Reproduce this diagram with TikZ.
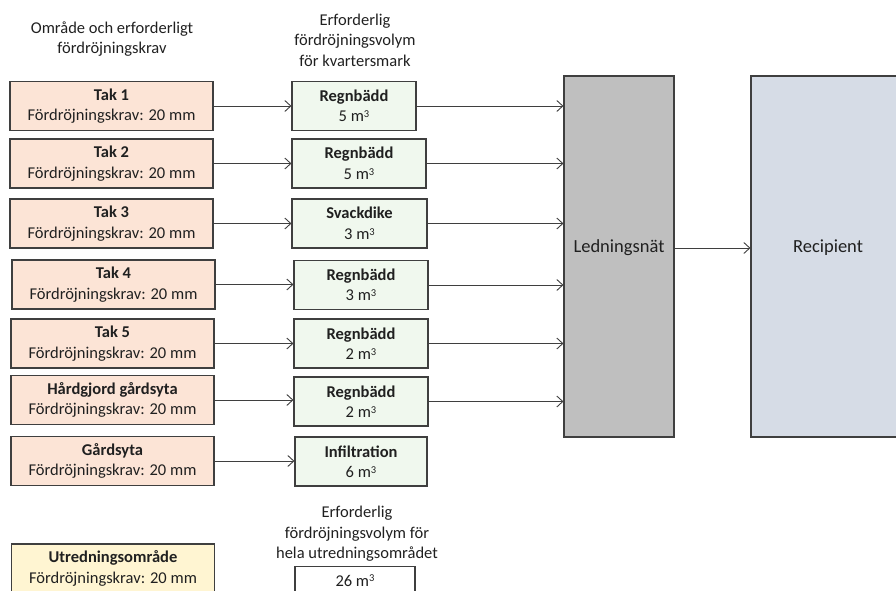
\documentclass[tikz,border=0pt]{standalone}
\usepackage{fontspec}
\setmainfont{Carlito}
\usetikzlibrary{arrows.meta}
\definecolor{areafill}{HTML}{FCE4D6}
\definecolor{measurefill}{HTML}{F0F8EE}
\definecolor{totalfill}{HTML}{FFF5D2}
\definecolor{pipefill}{HTML}{BFBFBF}
\definecolor{recfill}{HTML}{D6DCE6}
\definecolor{edgegray}{HTML}{3F3F3F}
\definecolor{txt}{HTML}{202020}
\newcommand{\cubic}{\raisebox{0.55ex}{\fontsize{10.5}{10.5}\selectfont 3}}
\tikzset{
    areabox/.style = {
        draw=edgegray,
        line width=1.1pt,
        fill=areafill,
        minimum width=203pt,
        minimum height=49pt,
        align=center,
        inner sep=0pt,
    },
    measurebox/.style = {
        draw=edgegray,
        line width=1.1pt,
        fill=measurefill,
        minimum height=49pt,
        align=center,
        inner sep=0pt,
    },
    pipebox/.style = {
        draw=edgegray,
        line width=1.1pt,
        fill=pipefill,
        minimum width=110pt,
        minimum height=361pt,
        inner sep=0pt,
    },
    header/.style = {
        align=center,
        inner sep=0pt,
    },
    biglabel/.style = {
        inner sep=0pt,
        font=\fontsize{18.5}{22}\selectfont,
    },
    flow/.style = {
        draw=edgegray,
        line width=0.9pt,
        -{Straight Barb[length=6pt,width=11pt,line width=0.9pt]},
    }
}

\begin{document}
\begin{tikzpicture}[x=1pt, y=-1pt, font=\fontsize{16.5}{20.5}\selectfont, text=txt]
  \useasboundingbox (0,0) rectangle (896,590);

  % Headings
  \node[header] (hdarea) at (112,39) {Område och erforderligt\\fördröjningskrav};
  \node[header] (hdvol) at (355,40) {Erforderlig\\fördröjningsvolym\\för kvartersmark};
  \node[header] (hdtot) at (357,534) {Erforderlig\\fördröjningsvolym för\\hela utredningsområdet};

  % Areas
  \node[areabox] (tak1) at (111.5,106) {\textbf{Tak 1}\\Fördröjningskrav: 20 mm};
  \node[areabox] (tak2) at (111.5,163.5) {\textbf{Tak 2}\\Fördröjningskrav: 20 mm};
  \node[areabox] (tak3) at (111.5,223.5) {\textbf{Tak 3}\\Fördröjningskrav: 20 mm};
  \node[areabox] (tak4) at (113.5,284.5) {\textbf{Tak 4}\\Fördröjningskrav: 20 mm};
  \node[areabox] (tak5) at (112.5,343.5) {\textbf{Tak 5}\\Fördröjningskrav: 20 mm};
  \node[areabox] (hard) at (112.5,400) {\textbf{Hårdgjord gårdsyta}\\Fördröjningskrav: 20 mm};
  \node[areabox] (gard) at (112.5,461) {\textbf{Gårdsyta}\\Fördröjningskrav: 20 mm};
  \node[areabox, fill=totalfill] (utr) at (113,568.5) {\textbf{Utredningsområde}\\Fördröjningskrav: 20 mm};

  % Measures
  \node[measurebox, minimum width=124pt] (regn1) at (354,106) {\textbf{Regnbädd}\\5 m\cubic};
  \node[measurebox, minimum width=134pt] (regn2) at (359,163.5) {\textbf{Regnbädd}\\5 m\cubic};
  \node[measurebox, minimum width=135pt] (svack) at (359.5,223.5) {\textbf{Svackdike}\\3 m\cubic};
  \node[measurebox, minimum width=134pt] (regn3) at (361,285) {\textbf{Regnbädd}\\3 m\cubic};
  \node[measurebox, minimum width=134pt] (regn4) at (361,343.5) {\textbf{Regnbädd}\\2 m\cubic};
  \node[measurebox, minimum width=134pt] (regn5) at (361,401.5) {\textbf{Regnbädd}\\2 m\cubic};
  \node[measurebox, minimum width=132pt] (infil) at (361,461.5) {\textbf{Infiltration}\\6 m\cubic};
  \node[measurebox, fill=white, minimum width=120pt, minimum height=28pt, anchor=north] (total) at (355,566) {26 m\cubic};

  % Network and recipient
  \node[pipebox] (led) at (619,256.5) {};
  \node[biglabel] (ledtext) at (619,248) {Ledningsnät};
  \node[pipebox, fill=recfill, minimum width=154pt] (rec) at (828,256.5) {};
  \node[biglabel] (rectext) at (828,248) {Recipient};

  % Flows
  \foreach \from/\to in {tak1/regn1, tak2/regn2, tak3/svack, tak4/regn3, tak5/regn4, hard/regn5, gard/infil}
    \draw[flow] (\from.east) -- (\to.west |- \from.east);
  \foreach \from in {regn1, regn2, svack, regn3, regn4, regn5}
    \draw[flow] (\from.east) -- (\from.east -| led.west);
  \draw[flow] (ledtext -| led.east) -- (ledtext -| rec.west);

\end{tikzpicture}
\end{document}
